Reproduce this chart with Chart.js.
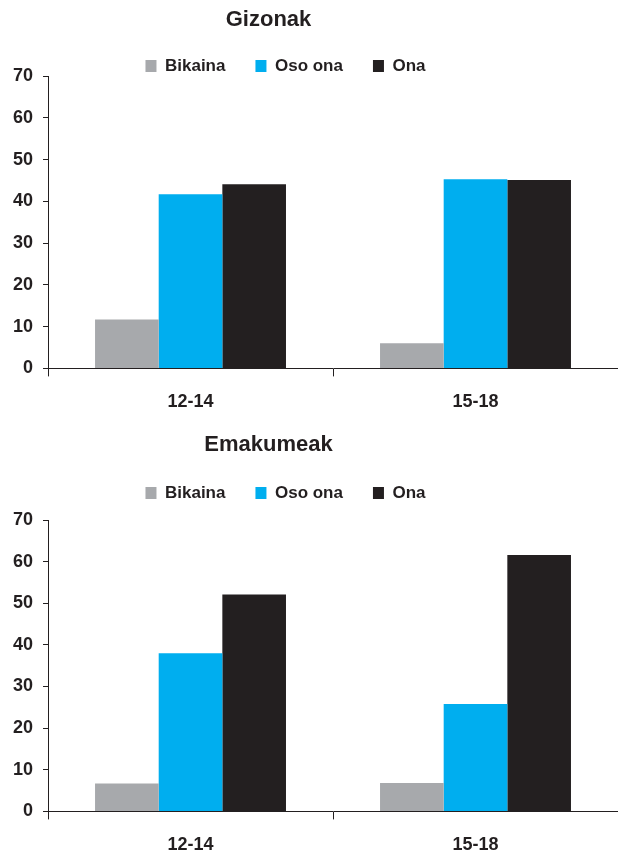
<!DOCTYPE html>
<html>
<head>
<meta charset="utf-8">
<script src="https://cdn.jsdelivr.net/npm/chart.js@4"></script>
<style>
  body { margin: 0; background: #fff; overflow: hidden; }
  canvas { display: block; }
</style>
</head>
<body>
<canvas id="gizonak" width="618" height="428"></canvas>
<canvas id="emakumeak" width="618" height="443"></canvas>
<script>
// Datuak
const categories = ["12-14", "15-18"];
const seriesNames = ["Bikaina", "Oso ona", "Ona"];
const seriesColors = ["#a7a9ac", "#00aeef", "#231f20"];

const gizonakBikaina = [11.7, 6.0];
const gizonakOsoOna = [41.7, 45.3];
const gizonakOna = [44.1, 45.1];

const emakumeakBikaina = [6.7, 6.8];
const emakumeakOsoOna = [38.0, 25.8];
const emakumeakOna = [52.1, 61.6];

const yMax = 70;
const yStep = 10;

const textColor = "#231f20";
const fontFamily = "'Liberation Sans', Arial, sans-serif";

// titulua eta legenda ezkerrerantz mugitu (jatorrizkoan ez daude erdian)
const shiftPlugin = {
  id: "shift",
  afterLayout(chart, args, opts) {
    chart.titleBlock.left += opts.title;
    chart.titleBlock.right += opts.title;
    chart.legend.left += opts.legend;
    chart.legend.right += opts.legend;
  },
};

function makeChart(id, title, values, cfg) {
  const ctx = document.getElementById(id).getContext("2d");
  return new Chart(ctx, {
    type: "bar",
    data: {
      labels: categories,
      datasets: values.map((data, i) => ({
        label: seriesNames[i],
        data: data,
        backgroundColor: seriesColors[i],
        borderWidth: 0,
        categoryPercentage: 0.67,
        barPercentage: 1.0,
      })),
    },
    plugins: [shiftPlugin],
    options: {
      responsive: false,
      animation: false,
      layout: { padding: { left: 3, right: 0, top: 0, bottom: 0 } },
      plugins: {
        shift: { title: -42, legend: -25 },
        title: {
          display: true,
          text: title,
          color: textColor,
          font: { family: fontFamily, size: 22, weight: "bold", lineHeight: 1.2 },
          padding: { top: cfg.titleTop, bottom: cfg.titleBottom },
        },
        // hutsunea legendaren eta grafikoaren artean
        subtitle: {
          display: cfg.spacer > 0,
          text: "",
          weight: 100,
          font: { size: 1, lineHeight: 1 },
          padding: { top: 0, bottom: cfg.spacer - 1 },
        },
        legend: {
          position: "top",
          maxHeight: cfg.legendMax,
          labels: {
            color: textColor,
            font: { family: fontFamily, size: 17, weight: "bold" },
            boxWidth: 11,
            boxHeight: 12,
            padding: 30,
          },
        },
        tooltip: { enabled: false },
      },
      scales: {
        x: {
          offset: true,
          grid: {
            offset: true,
            drawOnChartArea: false,
            tickLength: 8,
            color: textColor,
          },
          border: { color: textColor, width: 1 },
          ticks: {
            color: textColor,
            padding: 15,
            font: { family: fontFamily, size: 18, weight: "bold" },
          },
        },
        y: {
          min: 0,
          max: yMax,
          grid: {
            drawOnChartArea: false,
            tickLength: 5,
            color: textColor,
          },
          border: { color: textColor, width: 1 },
          ticks: {
            stepSize: yStep,
            color: textColor,
            padding: 10,
            font: { family: fontFamily, size: 18, weight: "bold" },
          },
        },
      },
    },
  });
}

makeChart("gizonak", "Gizonak", [gizonakBikaina, gizonakOsoOna, gizonakOna], {
  titleTop: 7,
  titleBottom: -6,
  legendMax: 48.6,
  spacer: 0,
});

makeChart("emakumeak", "Emakumeak", [emakumeakBikaina, emakumeakOsoOna, emakumeakOna], {
  titleTop: 4,
  titleBottom: -3.9,
  legendMax: 0,
  spacer: 8.5,
});
</script>
</body>
</html>
